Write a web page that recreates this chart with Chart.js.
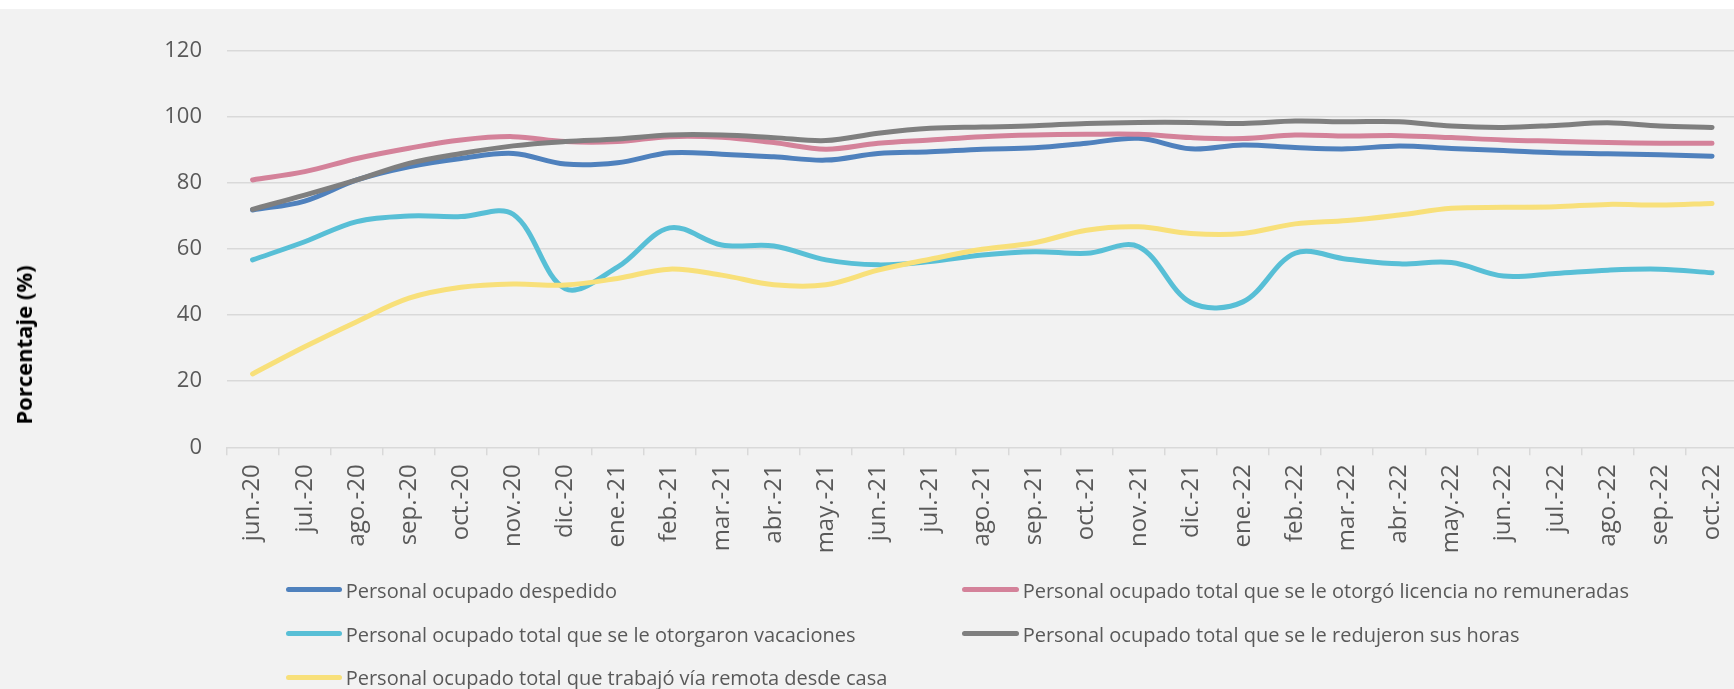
<!DOCTYPE html>
<html>
<head>
<meta charset="utf-8">
<script src="https://cdn.jsdelivr.net/npm/chart.js@4.4.1/dist/chart.umd.min.js"></script>
<style>
  html, body { margin: 0; padding: 0; background: #f2f2f2; overflow: hidden; width: 1734px; height: 689px; }
  #topband { position: absolute; left: 0; top: 0; width: 1734px; height: 9px; background: #ffffff; }
  #wrap { position: absolute; left: 0; top: 9px; width: 1740px; height: 680px; }
  #ytitle { position: absolute; left: 23px; top: 345px; transform: translate(-50%, -50%) rotate(-90deg);
            font-family: 'Open Sans', sans-serif; font-weight: bold; font-size: 22px; color: #000; white-space: nowrap; }
  .leg { position: absolute; font-family: 'Open Sans', sans-serif; font-size: 20px; color: #595959; white-space: nowrap; }
  .sw { position: absolute; height: 5px; border-radius: 3px; }
</style>
</head>
<body>
<div id="topband"></div>
<div id="wrap"><canvas id="c" width="1740" height="680"></canvas></div>
<div id="ytitle">Porcentaje (%)</div>
<div id="legend"></div>
<script>
const categories = ['jun.-20','jul.-20','ago.-20','sep.-20','oct.-20','nov.-20','dic.-20','ene.-21','feb.-21','mar.-21','abr.-21','may.-21','jun.-21','jul.-21','ago.-21','sep.-21','oct.-21','nov.-21','dic.-21','ene.-22','feb.-22','mar.-22','abr.-22','may.-22','jun.-22','jul.-22','ago.-22','sep.-22','oct.-22'];

const despedido  = [71.8, 74.5, 80.9, 84.9, 87.4, 88.9, 85.7, 86.1, 89.1, 88.7, 87.9, 86.9, 88.9, 89.4, 90.2, 90.6, 92.0, 93.5, 90.3, 91.5, 90.7, 90.3, 91.2, 90.4, 89.8, 89.1, 88.8, 88.5, 88.1];
const licencia   = [80.9, 83.4, 87.4, 90.5, 93.0, 94.0, 92.5, 92.5, 94.0, 93.8, 92.2, 90.2, 92.0, 93.0, 94.0, 94.5, 94.7, 94.7, 93.7, 93.4, 94.5, 94.2, 94.3, 93.7, 93.0, 92.6, 92.2, 92.0, 92.0];
const vacaciones = [56.7, 62.2, 68.3, 70.0, 69.8, 70.5, 48.0, 54.5, 66.4, 61.2, 60.9, 56.7, 55.2, 56.2, 58.2, 59.2, 58.7, 60.7, 43.8, 44.0, 58.7, 56.9, 55.5, 55.9, 51.8, 52.6, 53.6, 53.9, 52.8];
const horas      = [72.0, 76.3, 80.9, 85.9, 88.9, 91.2, 92.5, 93.3, 94.5, 94.5, 93.7, 92.8, 95.0, 96.5, 96.9, 97.3, 98.0, 98.3, 98.3, 98.0, 98.7, 98.5, 98.5, 97.2, 96.8, 97.4, 98.2, 97.2, 96.8];
const remota     = [22.2, 30.4, 38.0, 45.1, 48.4, 49.4, 49.1, 51.1, 53.9, 52.1, 49.2, 49.2, 53.6, 56.9, 59.9, 61.9, 65.7, 66.7, 64.7, 64.7, 67.6, 68.6, 70.3, 72.3, 72.6, 72.8, 73.5, 73.3, 73.8];

const yTicks = [0, 20, 40, 60, 80, 100, 120];

const seriesNames = [
  'Personal ocupado despedido',
  'Personal ocupado total que se le otorgó licencia no remuneradas',
  'Personal ocupado total que se le otorgaron vacaciones',
  'Personal ocupado total que se le redujeron sus horas',
  'Personal ocupado total que trabajó vía remota desde casa'
];
const seriesData = [despedido, licencia, vacaciones, horas, remota];
const seriesColors = ['#4f81bd', '#d4829a', '#58bfd6', '#7f7f7f', '#f8e07a'];

const datasets = seriesNames.map((name, i) => ({
  label: name,
  data: seriesData[i],
  borderColor: seriesColors[i],
  backgroundColor: seriesColors[i],
  borderWidth: 5,
  pointRadius: 0,
  pointHoverRadius: 0,
  tension: 0.35,
  borderCapStyle: 'round',
  borderJoinStyle: 'round',
  fill: false,
  order: seriesNames.length - 1 - i
}));

new Chart(document.getElementById('c'), {
  type: 'line',
  data: { labels: categories, datasets },
  options: {
    responsive: false,
    animation: false,
    events: [],
    layout: { padding: { top: 41.7, left: 0, right: 1.9, bottom: 101.7 } },
    plugins: { legend: { display: false }, tooltip: { enabled: false }, title: { display: false } },
    scales: {
      x: {
        type: 'category',
        offset: true,
        grid: { display: true, drawOnChartArea: false, drawTicks: true, tickLength: 8, offset: true, color: '#d9d9d9', lineWidth: 1.5 },
        border: { display: false },
        ticks: {
          autoSkip: false, maxRotation: 90, minRotation: 90, padding: 9,
          color: '#595959', font: { family: 'Open Sans', size: 24 }
        },
        afterFit: (s) => { s.height = 140; s.paddingLeft = 0; s.paddingRight = 0; }
      },
      y: {
        min: 0, max: 120,
        afterBuildTicks: (s) => { s.ticks = yTicks.map(v => ({ value: v })); },
        grid: { color: '#d9d9d9', lineWidth: 1.5, drawTicks: false },
        border: { display: false },
        ticks: { padding: 24.5, color: '#595959', font: { family: 'Open Sans', size: 22 } },
        afterFit: (s) => { s.width = 226.5; }
      }
    }
  }
});

// HTML legend in two columns
const legendPos = [
  { sx: 286, tx: 345.7, y: 589.5 },
  { sx: 962, tx: 1022.7, y: 589.5 },
  { sx: 286, tx: 345.7, y: 633.7 },
  { sx: 962, tx: 1022.7, y: 633.7 },
  { sx: 286, tx: 345.7, y: 677.3 }
];
const leg = document.getElementById('legend');
seriesNames.forEach((name, i) => {
  const p = legendPos[i];
  const sw = document.createElement('div');
  sw.className = 'sw';
  sw.style.left = p.sx + 'px';
  sw.style.width = (p.tx - p.sx - 3.5) + 'px';
  sw.style.top = (p.y - 2.5) + 'px';
  sw.style.background = seriesColors[i];
  leg.appendChild(sw);
  const t = document.createElement('div');
  t.className = 'leg';
  t.textContent = name;
  t.style.left = p.tx + 'px';
  t.style.top = p.y + 'px';
  t.style.transform = 'translateY(-50%)';
  leg.appendChild(t);
});
</script>
</body>
</html>
